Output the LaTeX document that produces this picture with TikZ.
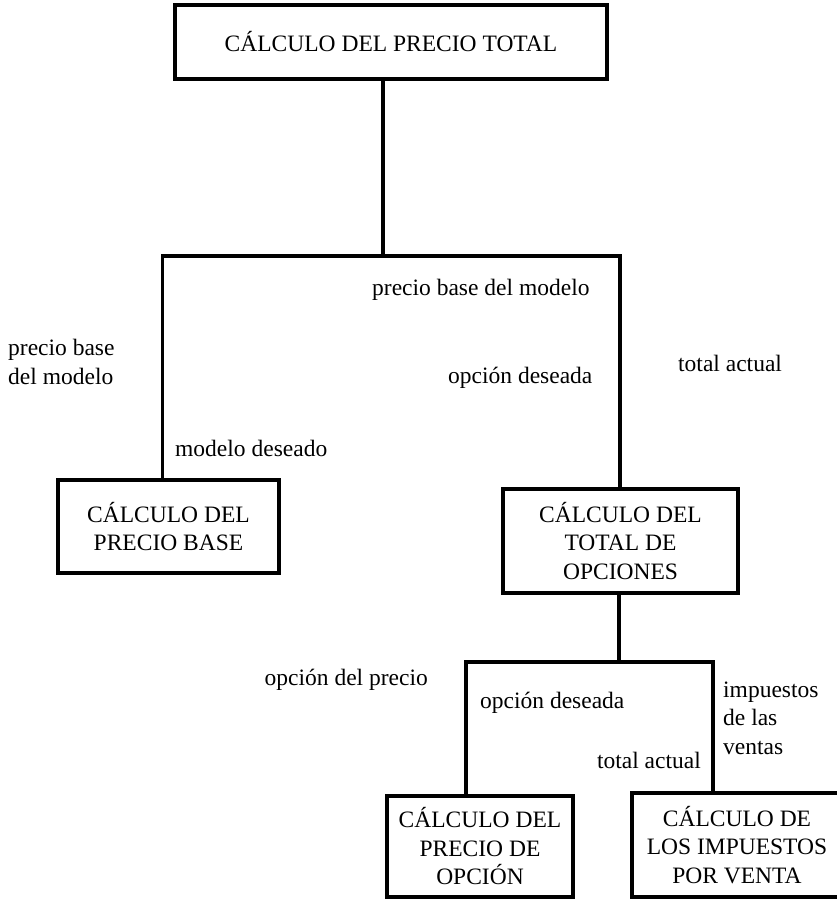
\documentclass[tikz,border=0pt]{standalone}
\usepackage{fontspec}
\setmainfont{Liberation Serif}
\begin{document}
\begin{tikzpicture}[x=1pt,y=-1pt,
  every node/.style={font=\fontsize{23.5}{28.5}\selectfont, inner sep=0pt},
  proc/.style={draw, line width=4.5pt, align=center, anchor=center},
  lbl/.style={align=left},
  link/.style={line width=3.5pt}]
\useasboundingbox (0,0) rectangle (836,899);

% process boxes
\node[proc, minimum width=432, minimum height=74] (total) at (391,42) {CÁLCULO DEL PRECIO TOTAL};
\node[proc, minimum width=221, minimum height=93] (base) at (168.5,526.5) {CÁLCULO DEL\\PRECIO BASE};
\node[proc, minimum width=235, minimum height=104] (opts) at (620.5,541) {CÁLCULO DEL\\TOTAL DE\\OPCIONES};
\node[proc, minimum width=186, minimum height=101] (price) at (480,846.5) {CÁLCULO DEL\\PRECIO DE\\OPCIÓN};
\node[proc, minimum width=210, minimum height=104] (tax) at (737,845) {CÁLCULO DE\\LOS IMPUESTOS\\POR VENTA};

% junction points of the tree
\coordinate (j1) at (383,256);
\coordinate (j1l) at (162.5,256);
\coordinate (j1r) at (620,256);
\coordinate (j2) at (619,662);
\coordinate (j2l) at (466,662);
\coordinate (j2r) at (713,662);

% connectors
\draw[link] (total.south -| j1) -- (j1);
\draw[link] (base.north -| j1l) -- (j1l) -- (j1r) -- (opts.north -| j1r);
\draw[link] (opts.south -| j2) -- (j2);
\draw[link] (price.north -| j2l) -- (j2l) -- (j2r) -- (tax.north -| j2r);

% data flow labels
\node[lbl, anchor=west] (l1) at (8,362) {precio base\\del modelo};
\node[anchor=west] (l2) at (175,448) {modelo deseado};
\node[anchor=west] (l3) at (372,290) {precio base del modelo};
\node[anchor=west] (l4) at (448,378) {opción deseada};
\node[anchor=west] (l5) at (678,363) {total actual};
\node[anchor=east] (l6) at (428,680) {opción del precio};
\node[anchor=west] (l7) at (480,703) {opción deseada};
\node[anchor=east] (l8) at (701,760) {total actual};
\node[lbl, anchor=west] (l9) at (723,718) {impuestos\\de las\\ventas};
\end{tikzpicture}
\end{document}
